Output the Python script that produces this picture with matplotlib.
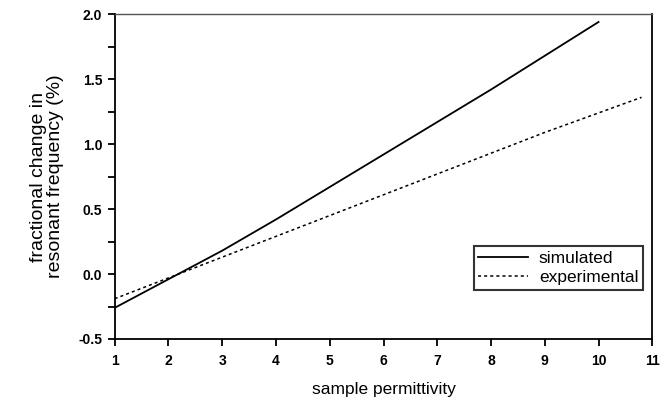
import matplotlib
matplotlib.use("Agg")
import matplotlib.pyplot as plt
from matplotlib.ticker import MultipleLocator

# Data
sim_x = [1, 2, 3, 4, 5, 6, 7, 8, 9, 10]
sim_y = [-0.26, -0.04, 0.18, 0.42, 0.67, 0.92, 1.17, 1.42, 1.68, 1.94]
exp_x = [1, 2, 3, 4, 5, 6, 7, 8, 9, 10, 10.8]
exp_y = [-0.19, -0.03, 0.13, 0.29, 0.45, 0.61, 0.77, 0.93, 1.09, 1.24, 1.36]
xticks = list(range(1, 12))
yticks = [-0.5, 0.0, 0.5, 1.0, 1.5, 2.0]

plt.rcParams['font.family'] = ['Liberation Sans', 'DejaVu Sans']

fig = plt.figure(figsize=(6.67, 4.05), dpi=100)
ax = fig.add_axes([0.172, 0.163, 0.806, 0.802])

ax.plot(sim_x, sim_y, color='black', lw=1.3, label='simulated')
ax.plot(exp_x, exp_y, color='black', lw=1.1, linestyle=(0, (2, 2)), label='experimental')

ax.set_xlim(1, 11)
ax.set_ylim(-0.5, 2.0)
ax.set_xticks(xticks)
ax.set_yticks(yticks)
ax.set_yticklabels([f"{v:.1f}" for v in yticks])
ax.yaxis.set_minor_locator(MultipleLocator(0.25))
ax.tick_params(axis='both', which='both', direction='out', length=5, width=1.3,
               top=False, right=False)
ax.tick_params(axis='x', which='major', labelsize=10, pad=6)
ax.tick_params(axis='y', which='major', labelsize=10, pad=4)
for lbl in ax.get_xticklabels() + ax.get_yticklabels():
    lbl.set_fontweight('bold')
for sp in ax.spines.values():
    sp.set_linewidth(1.3)
ax.spines['top'].set_linewidth(1.0)
ax.spines['top'].set_color('#555555')

ax.set_xlabel('sample permittivity', fontsize=12.5, labelpad=10)
ax.set_ylabel('fractional change in\nresonant frequency (%)', fontsize=14, labelpad=10,
              linespacing=1.0)

leg = ax.legend(loc='lower right', bbox_to_anchor=(0.982, 0.152), fontsize=12.5,
                frameon=True, fancybox=False, edgecolor='black', handlelength=2.9,
                borderpad=0.25, labelspacing=0.25, handletextpad=0.6, borderaxespad=0)
leg.get_frame().set_linewidth(1.5)

fig.savefig('out.png', dpi=100)
